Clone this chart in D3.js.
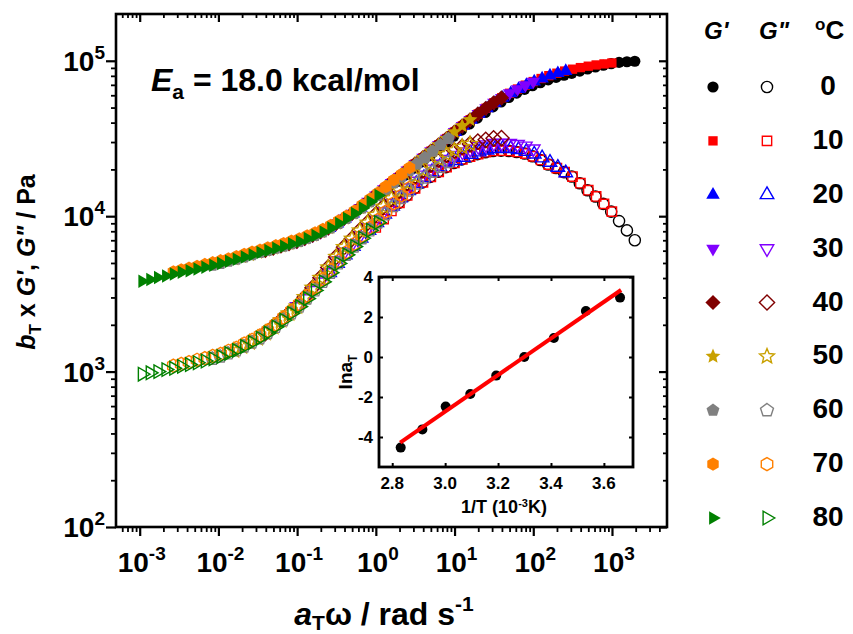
<!DOCTYPE html>
<html>
<head>
<meta charset="utf-8">
<script src="https://cdn.jsdelivr.net/npm/d3@7"></script>
<style>
  body { margin: 0; background: #fff; }
  text { font-family: "Liberation Sans", Arial, sans-serif; font-weight: bold; fill: #000; }
</style>
</head>
<body>
<svg id="chart" width="853" height="634"></svg>
<script>
// ---- data ----
const temps = [0, 10, 20, 30, 40, 50, 60, 70, 80];
const colors = ["#000000", "#ff0000", "#0000ff", "#8000ff", "#800000", "#c9a100", "#808080", "#ff8000", "#008000"];
const shapes = ["circle", "square", "triangleUp", "triangleDown", "diamond", "star", "pentagon", "hexagon", "triangleRight"];

// inset: shift factors
const invT = [3.661, 3.532, 3.411, 3.299, 3.193, 3.095, 3.002, 2.914, 2.832];
const lnaT = [2.97, 2.30, 0.95, 0, -0.93, -1.85, -2.48, -3.62, -4.53];
const fitX = [2.83, 3.665];
const fitY = [-4.28, 3.35];

// measured angular frequencies (rad/s)
const omega = [0.1, 0.126, 0.158, 0.2, 0.251, 0.316, 0.398, 0.501, 0.631, 0.794, 1, 1.26, 1.58, 2, 2.51, 3.16, 3.98, 5.01, 6.31, 7.94, 10, 12.6, 15.8, 20, 25.1, 31.6, 39.8, 50.1, 63.1, 79.4, 100];

// G' (Pa)
const gp0 = [16800, 18500, 20400, 22400, 24600, 27100, 29700, 32700, 35800, 39200, 42800, 46500, 50500, 54300, 58100, 61900, 65500, 69100, 72300, 75400, 78200, 80700, 83000, 85900, 88600, 91200, 93600, 95800, 97700, 98600, 99300];
const gp10 = [13600, 14900, 16400, 17900, 19700, 21700, 23800, 26200, 28800, 31600, 34800, 38100, 41700, 45500, 49500, 53700, 57800, 61800, 65800, 69700, 73500, 76900, 80200, 83200, 85900, 88300, 90400, 92300, 94000, 95500, 96800];
const gp20 = [8390, 8970, 9660, 10400, 11300, 12400, 13600, 14900, 16400, 17900, 19700, 21700, 23800, 26200, 28800, 31600, 34800, 38100, 41700, 45500, 49500, 53700, 57800, 61800, 65800, 69700, 73500, 76900, 80200, 83200, 85900];
const gp30 = [6870, 7180, 7520, 7910, 8390, 8970, 9660, 10400, 11300, 12400, 13600, 14900, 16400, 17900, 19700, 21700, 23800, 26200, 28800, 31600, 34800, 38100, 41700, 45500, 49500, 53700, 57800, 61800, 65800, 69700, 73500];
const gp40 = [6010, 6210, 6410, 6640, 6870, 7180, 7520, 7910, 8390, 8970, 9660, 10400, 11300, 12400, 13600, 14900, 16400, 17900, 19700, 21700, 23800, 26200, 28800, 31600, 34800, 38100, 41700, 45500, 49500, 53700, 57800];
const gp50 = [5280, 5460, 5640, 5830, 6010, 6210, 6410, 6640, 6870, 7180, 7520, 7910, 8390, 8970, 9660, 10400, 11300, 12400, 13600, 14900, 16400, 17900, 19700, 21700, 23800, 26200, 28800, 31600, 34800, 38100, 41700];
const gp60 = [4830, 4970, 5120, 5280, 5460, 5640, 5830, 6010, 6210, 6410, 6640, 6870, 7180, 7520, 7910, 8390, 8970, 9660, 10400, 11300, 12400, 13600, 14900, 16400, 17900, 19700, 21700, 23800, 26200, 28800, 31600];
const gp70 = [4390, 4520, 4640, 4760, 4890, 5020, 5170, 5320, 5490, 5680, 5870, 6060, 6250, 6460, 6670, 6910, 7140, 7470, 7820, 8230, 8730, 9330, 10000, 10800, 11800, 12900, 14100, 15500, 17100, 18600, 20500];
const gp80 = [3820, 3920, 4030, 4120, 4240, 4360, 4460, 4580, 4700, 4830, 4970, 5120, 5280, 5460, 5640, 5830, 6010, 6210, 6410, 6640, 6870, 7180, 7520, 7910, 8390, 8970, 9660, 10400, 11300, 12400, 13600];

// G'' (Pa)
const gpp0 = [12200, 13600, 15100, 16500, 17900, 19300, 20700, 22000, 23200, 24200, 25100, 25800, 26300, 26400, 26300, 25900, 25300, 24300, 23000, 21500, 20400, 19200, 18000, 16300, 14700, 13400, 12000, 10700, 9300, 8100, 7000];
const gpp10 = [8460, 9580, 10800, 12200, 13600, 15100, 16500, 17900, 19300, 20700, 22000, 23200, 24200, 25100, 25800, 26300, 26400, 26300, 25900, 25300, 24300, 23000, 21500, 20400, 19200, 18000, 16300, 14700, 13400, 12000, 10700];
const gpp20 = [4330, 4970, 5640, 6380, 7210, 8110, 9100, 10300, 11600, 13100, 14600, 16200, 17700, 19300, 20800, 22300, 22800, 23900, 25000, 25900, 26600, 27200, 27300, 27200, 26800, 26100, 25100, 23700, 22200, 20600, 19000];
const gpp30 = [2620, 2950, 3330, 3780, 4330, 5170, 5870, 6640, 7500, 8430, 9460, 10700, 12100, 13600, 15200, 16800, 18400, 20100, 21600, 23200, 24600, 25900, 27000, 28100, 28800, 29400, 29500, 29400, 29000, 28300, 27100];
const gpp40 = [1770, 1940, 2140, 2370, 2620, 3010, 3460, 4010, 4680, 5470, 6320, 7150, 8080, 9080, 10200, 11500, 13000, 14700, 16400, 18100, 19800, 21600, 23300, 25000, 26500, 27900, 29100, 30200, 31000, 31700, 31800];
const gpp50 = [1370, 1450, 1540, 1640, 1770, 1940, 2140, 2370, 2620, 3010, 3460, 4010, 4680, 5470, 6320, 7150, 8080, 9080, 10200, 11500, 13000, 14700, 16400, 18100, 19800, 21600, 23300, 25000, 26500, 27900, 29100];
const gpp60 = [1210, 1250, 1310, 1370, 1450, 1540, 1640, 1770, 1940, 2140, 2370, 2620, 2950, 3330, 3780, 4330, 4970, 5640, 6380, 7210, 8110, 9100, 10300, 11600, 13100, 14600, 16200, 17700, 19300, 20800, 22300];
const gpp70 = [1090, 1120, 1150, 1190, 1220, 1260, 1300, 1360, 1420, 1510, 1600, 1710, 1840, 2020, 2230, 2460, 2720, 3070, 3460, 3930, 4500, 5170, 5870, 6640, 7500, 8430, 9460, 10700, 12100, 13600, 15200];
const gpp80 = [962, 982, 1000, 1030, 1050, 1080, 1110, 1140, 1170, 1210, 1250, 1310, 1370, 1450, 1540, 1640, 1770, 1940, 2140, 2370, 2620, 2950, 3330, 3780, 4330, 4970, 5640, 6380, 7210, 8110, 9100];

const storage = [gp0, gp10, gp20, gp30, gp40, gp50, gp60, gp70, gp80];
const loss = [gpp0, gpp10, gpp20, gpp30, gpp40, gpp50, gpp60, gpp70, gpp80];

// tick labels
const xTickExp = [-3, -2, -1, 0, 1, 2, 3];
const yTickExp = [2, 3, 4, 5];
const insetXTicks = [2.8, 3.0, 3.2, 3.4, 3.6];
const insetYTicks = [-4, -2, 0, 2, 4];

// ---- chart ----
const svg = d3.select("#chart");
const x = d3.scaleLog().domain([5e-4, 5e3]).range([116, 667]);
const y = d3.scaleLog().domain([100, 2e5]).range([527, 14]);

// marker shapes, "size" is used as radius
function poly(n, a0) {
    return {
        draw(ctx, r) {
            for (let i = 0; i < n; i++) {
                const a = a0 + i * 2 * Math.PI / n;
                if (i === 0) ctx.moveTo(r * Math.cos(a), r * Math.sin(a));
                else ctx.lineTo(r * Math.cos(a), r * Math.sin(a));
            }
            ctx.closePath();
        }
    };
}
const symbolTypes = {
    circle: { draw(ctx, r) { ctx.moveTo(r, 0); ctx.arc(0, 0, r, 0, 2 * Math.PI); } },
    square: poly(4, Math.PI / 4),
    triangleUp: poly(3, -Math.PI / 2),
    triangleDown: poly(3, Math.PI / 2),
    diamond: poly(4, -Math.PI / 2),
    star: {
        draw(ctx, r) {
            for (let i = 0; i < 10; i++) {
                const a = -Math.PI / 2 + i * Math.PI / 5;
                const rr = i % 2 ? r * 0.45 : r;
                if (i === 0) ctx.moveTo(rr * Math.cos(a), rr * Math.sin(a));
                else ctx.lineTo(rr * Math.cos(a), rr * Math.sin(a));
            }
            ctx.closePath();
        }
    },
    pentagon: poly(5, -Math.PI / 2),
    hexagon: poly(6, -Math.PI / 2),
    triangleRight: poly(3, 0)
};
const symbolRadius = { circle: 5.6, square: 6.6, triangleUp: 7.8, triangleDown: 7.8, diamond: 7.6, star: 7.8, pentagon: 6.8, hexagon: 6.6, triangleRight: 7.8 };
const symbolFor = i => d3.symbol(symbolTypes[shapes[i]], symbolRadius[shapes[i]]);

// data marks, 0 C first so the hotter curves sit on top
const marks = svg.append("g");
temps.forEach((t, i) => {
    const aT = Math.exp(lnaT[i]);
    const pts = omega.map((w, j) => ({ x: aT * w, gp: storage[i][j], gpp: loss[i][j] }));
    const sym = symbolFor(i);
    const g = marks.append("g");
    g.selectAll(".gp").data(pts).join("path").attr("class", "gp")
        .attr("transform", d => `translate(${x(d.x)},${y(d.gp)})`)
        .attr("d", sym).attr("fill", colors[i]);
    g.selectAll(".gpp").data(pts).join("path").attr("class", "gpp")
        .attr("transform", d => `translate(${x(d.x)},${y(d.gpp)})`)
        .attr("d", sym).attr("fill", "none").attr("stroke", colors[i]).attr("stroke-width", 1.4);
});

// axes
function minorTicks(scale) {
    const [a, b] = scale.domain();
    const out = [];
    for (let e = Math.floor(Math.log10(a)); e <= Math.ceil(Math.log10(b)); e++) {
        for (let m = 2; m <= 9; m++) {
            const v = m * Math.pow(10, e);
            if (v > a && v < b) out.push(v);
        }
    }
    return out;
}
function drawAxis(gen, tr, values, size, width) {
    svg.append("g").attr("transform", tr)
        .call(gen.tickValues(values).tickSize(size).tickFormat(""))
        .call(s => s.select(".domain").remove())
        .call(s => s.selectAll("line").attr("stroke", "#000").attr("stroke-width", width));
}
const xMajor = xTickExp.map(e => Math.pow(10, e));
const yMajor = yTickExp.map(e => Math.pow(10, e));
drawAxis(d3.axisBottom(x), "translate(0,527)", xMajor, 9, 2.2);
drawAxis(d3.axisBottom(x), "translate(0,527)", minorTicks(x), 5, 1.8);
drawAxis(d3.axisTop(x), "translate(0,14)", xMajor, -8, 2.2);
drawAxis(d3.axisTop(x), "translate(0,14)", minorTicks(x), -4, 1.8);
drawAxis(d3.axisLeft(y), "translate(116,0)", yMajor, 10, 2.2);
drawAxis(d3.axisLeft(y), "translate(116,0)", minorTicks(y), 5, 1.8);
drawAxis(d3.axisRight(y), "translate(667,0)", yMajor, -8, 2.2);
drawAxis(d3.axisRight(y), "translate(667,0)", minorTicks(y), -4, 1.8);

svg.append("rect").attr("x", 116).attr("y", 14).attr("width", 551).attr("height", 513)
    .attr("fill", "none").attr("stroke", "#000").attr("stroke-width", 2.6);

// tick labels with superscript exponents
function powLabel(sel, e) {
    sel.append("tspan").text("10");
    sel.append("tspan").attr("dy", -12).attr("font-size", 19).text(String(e));
}
xTickExp.forEach(e => {
    svg.append("text").attr("x", x(Math.pow(10, e)) + 2).attr("y", 572)
        .attr("text-anchor", "middle").attr("font-size", 28).call(powLabel, e);
});
yTickExp.forEach(e => {
    svg.append("text").attr("x", 105).attr("y", y(Math.pow(10, e)) + 10)
        .attr("text-anchor", "end").attr("font-size", 28).call(powLabel, e);
});

// axis titles
const xt = svg.append("text").attr("x", 384).attr("y", 625).attr("text-anchor", "middle").attr("font-size", 32);
xt.append("tspan").attr("font-style", "italic").text("a");
xt.append("tspan").attr("dy", 5).attr("font-size", 21).text("T");
xt.append("tspan").attr("dy", -5).text("ω / rad s");
xt.append("tspan").attr("dy", -14).attr("font-size", 21).text("-1");

const yt = svg.append("text").attr("transform", "translate(35,262) rotate(-90)")
    .attr("text-anchor", "middle").attr("font-size", 25);
yt.append("tspan").attr("font-style", "italic").text("b");
yt.append("tspan").attr("dy", 6).attr("font-size", 17).text("T");
yt.append("tspan").attr("dy", -6).text(" x ");
yt.append("tspan").attr("font-style", "italic").text("G'");
yt.append("tspan").text(", ");
yt.append("tspan").attr("font-style", "italic").text("G\"");
yt.append("tspan").text(" / Pa");

// activation energy
const ea = svg.append("text").attr("x", 151).attr("y", 91).attr("font-size", 32);
ea.append("tspan").attr("font-style", "italic").text("E");
ea.append("tspan").attr("dy", 8).attr("font-size", 21).text("a");
ea.append("tspan").attr("dy", -8).text(" = 18.0 kcal/mol");

// legend
const ly = d3.scalePoint().domain(temps).range([87, 518]);
svg.append("text").attr("x", 704).attr("y", 39).attr("font-size", 24).attr("font-style", "italic").text("G'");
svg.append("text").attr("x", 759).attr("y", 39).attr("font-size", 24).attr("font-style", "italic").text("G\"");
const degC = svg.append("text").attr("x", 815).attr("y", 39).attr("font-size", 26);
degC.append("tspan").attr("dy", -9).attr("font-size", 17).text("o");
degC.append("tspan").attr("dy", 9).text("C");

const legend = svg.append("g");
temps.forEach((t, i) => {
    const sym = symbolFor(i);
    legend.append("path").attr("transform", `translate(713,${ly(t)})`).attr("d", sym).attr("fill", colors[i]);
    legend.append("path").attr("transform", `translate(767,${ly(t)})`).attr("d", sym)
        .attr("fill", "none").attr("stroke", colors[i]).attr("stroke-width", 1.4);
    legend.append("text").attr("x", 828).attr("y", ly(t) + 8).attr("text-anchor", "middle")
        .attr("font-size", 28).text(t);
});

// inset: ln aT vs 1/T
const ix = d3.scaleLinear().domain([2.75, 3.71]).range([379, 633]);
const iy = d3.scaleLinear().domain([-5.5, 4]).range([467, 277]);
const inset = svg.append("g");
inset.append("rect").attr("x", 379).attr("y", 277).attr("width", 254).attr("height", 190).attr("fill", "#fff");
function insetAxis(gen, tr, values) {
    inset.append("g").attr("transform", tr)
        .call(gen.tickValues(values).tickSize(-4).tickFormat(""))
        .call(s => s.select(".domain").remove())
        .call(s => s.selectAll("line").attr("stroke", "#000").attr("stroke-width", 2));
}
insetAxis(d3.axisBottom(ix), "translate(0,467)", insetXTicks);
insetAxis(d3.axisTop(ix), "translate(0,277)", insetXTicks);
insetAxis(d3.axisLeft(iy), "translate(379,0)", insetYTicks);
insetAxis(d3.axisRight(iy), "translate(633,0)", insetYTicks);

inset.selectAll(".pt").data(invT).join("circle").attr("class", "pt")
    .attr("cx", d => ix(d)).attr("cy", (d, i) => iy(lnaT[i])).attr("r", 5).attr("fill", "#000");
inset.append("line").attr("x1", ix(fitX[0])).attr("y1", iy(fitY[0]))
    .attr("x2", ix(fitX[1])).attr("y2", iy(fitY[1]))
    .attr("stroke", "#ff0000").attr("stroke-width", 4);
inset.append("rect").attr("x", 379).attr("y", 277).attr("width", 254).attr("height", 190)
    .attr("fill", "none").attr("stroke", "#000").attr("stroke-width", 2.8);

insetXTicks.forEach(v => {
    inset.append("text").attr("x", ix(v)).attr("y", 489).attr("text-anchor", "middle")
        .attr("font-size", 17).text(v.toFixed(1));
});
insetYTicks.forEach(v => {
    inset.append("text").attr("x", 373).attr("y", iy(v) + 6).attr("text-anchor", "end")
        .attr("font-size", 17).text(String(v));
});
const ixt = inset.append("text").attr("x", 504).attr("y", 513).attr("text-anchor", "middle").attr("font-size", 18);
ixt.append("tspan").text("1/T (10");
ixt.append("tspan").attr("dy", -6).attr("font-size", 11).text("-3");
ixt.append("tspan").attr("dy", 6).text("K)");
const iyt = inset.append("text").attr("transform", "translate(352,372) rotate(-90)")
    .attr("text-anchor", "middle").attr("font-size", 19);
iyt.append("tspan").text("lna");
iyt.append("tspan").attr("dy", 5).attr("font-size", 12).text("T");
</script>
</body>
</html>
